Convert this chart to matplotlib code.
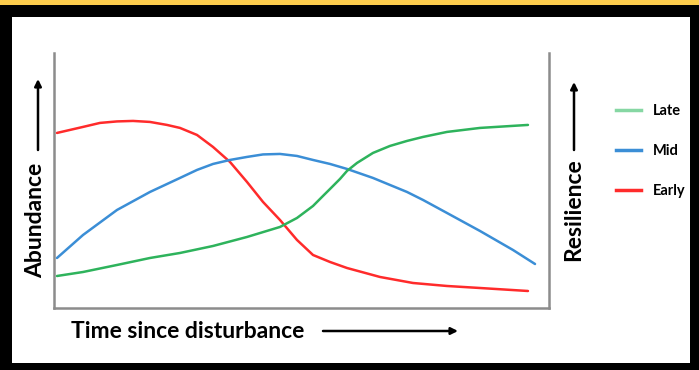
import matplotlib
matplotlib.use('Agg')
import matplotlib.pyplot as plt
from matplotlib.lines import Line2D
from matplotlib.patches import Rectangle, FancyArrowPatch

plt.rcParams['font.family'] = ['Lato', 'DejaVu Sans']

# ── data (time 0-100, abundance 0-100) ─────────────────────────────────────
early_t = [0.60, 5.85, 9.27, 12.70, 15.93, 19.35, 22.78, 25.40, 28.83, 32.06,
           35.48, 38.91, 42.14, 45.56, 48.99, 52.22, 55.65, 59.07, 65.73, 72.38,
           79.23, 85.89, 95.56]
early_a = [67.83, 70.16, 71.71, 72.29, 72.48, 72.09, 70.93, 69.77, 67.05, 62.40,
           56.59, 48.84, 41.09, 34.11, 26.36, 20.54, 17.83, 15.50, 12.02, 9.69,
           8.53, 7.75, 6.59]

mid_t = [0.60, 5.85, 12.70, 19.35, 25.40, 28.83, 32.06, 35.48, 38.91, 42.14,
         45.56, 48.99, 52.22, 55.65, 59.07, 64.31, 67.74, 71.17, 74.40, 79.23,
         85.89, 92.54, 96.98]
mid_a = [19.38, 28.29, 37.98, 44.96, 50.39, 53.49, 55.81, 57.36, 58.53, 59.50,
         59.69, 58.91, 57.36, 55.81, 53.88, 50.39, 47.67, 44.96, 41.86, 36.82,
         29.84, 22.48, 17.05]

late_t = [0.60, 5.85, 12.70, 19.35, 25.40, 32.06, 38.91, 45.56, 48.99, 52.22,
          54.23, 55.65, 57.66, 59.07, 61.09, 64.31, 67.74, 71.17, 74.40, 79.23,
          85.89, 95.56]
late_a = [12.40, 13.95, 16.67, 19.38, 21.32, 24.03, 27.52, 31.40, 34.88, 39.53,
          43.41, 46.12, 50.00, 53.10, 56.20, 60.08, 62.79, 64.73, 66.28, 68.22,
          69.77, 70.93]

labels = ['Late', 'Mid', 'Early']

RED = '#FF2B2B'
BLUE = '#3B8ED6'
GREEN = '#2EB35C'
GREEN_LEG = '#86D7A3'
W, H = 699, 370


def fx(px):
    return px / W


def fy(py):
    return 1 - py / H


fig = plt.figure(figsize=(W / 100, H / 100), dpi=100)
fig.patch.set_facecolor('black')
# yellow strip on top, white panel inside black frame
fig.add_artist(Rectangle((0, fy(5)), 1, 5 / H, transform=fig.transFigure,
                         facecolor='#FCCC4C', edgecolor='none', zorder=0))
fig.add_artist(Rectangle((fx(12), fy(363)), (690 - 12) / W, (363 - 17) / H,
                         transform=fig.transFigure, facecolor='white',
                         edgecolor='none', zorder=0))

ax = fig.add_axes([fx(54), fy(308), (549 - 54) / W, (308 - 53) / H])
ax.patch.set_alpha(0)
ax.plot(early_t, early_a, color=RED, lw=1.8, solid_capstyle='round')
ax.plot(mid_t, mid_a, color=BLUE, lw=1.8, solid_capstyle='round')
ax.plot(late_t, late_a, color=GREEN, lw=1.8, solid_capstyle='round')
ax.set_xlim(0, 99.8)
ax.set_ylim(0, 98.8)
ax.set_xticks([])
ax.set_yticks([])
ax.spines['top'].set_visible(False)
for s in ('left', 'right', 'bottom'):
    ax.spines[s].set_color('#8C8C8C')
    ax.spines[s].set_linewidth(1.8)

# axis titles with arrows
fig.text(fx(188), fy(332), 'Time since disturbance', fontsize=16.5, fontweight='bold',
         ha='center', va='center')
fig.text(fx(36), fy(220), 'Abundance', fontsize=16.5, fontweight='bold',
         rotation=90, ha='center', va='center')
fig.text(fx(574), fy(210), 'Resilience', fontsize=16.5, fontweight='bold',
         rotation=90, ha='center', va='center')

arrow = dict(arrowstyle='-|>', color='black', lw=1.8, mutation_scale=10,
             shrinkA=0, shrinkB=0)
fig.add_artist(FancyArrowPatch((fx(323), fy(331)), (fx(458), fy(331)),
                               transform=fig.transFigure, **arrow))
fig.add_artist(FancyArrowPatch((fx(38), fy(150)), (fx(38), fy(79)),
                               transform=fig.transFigure, **arrow))
fig.add_artist(FancyArrowPatch((fx(574), fy(150)), (fx(574), fy(82)),
                               transform=fig.transFigure, **arrow))

handles = [Line2D([], [], color=c, lw=2.5) for c in (GREEN_LEG, BLUE, RED)]
fig.legend(handles, labels, loc='upper left', bbox_to_anchor=(fx(603), fy(91)),
           frameon=False, handlelength=1.7, handletextpad=0.8, labelspacing=1.78,
           prop={'weight': 'bold', 'size': 10.5})

fig.savefig('out.png', dpi=100, facecolor='black')
